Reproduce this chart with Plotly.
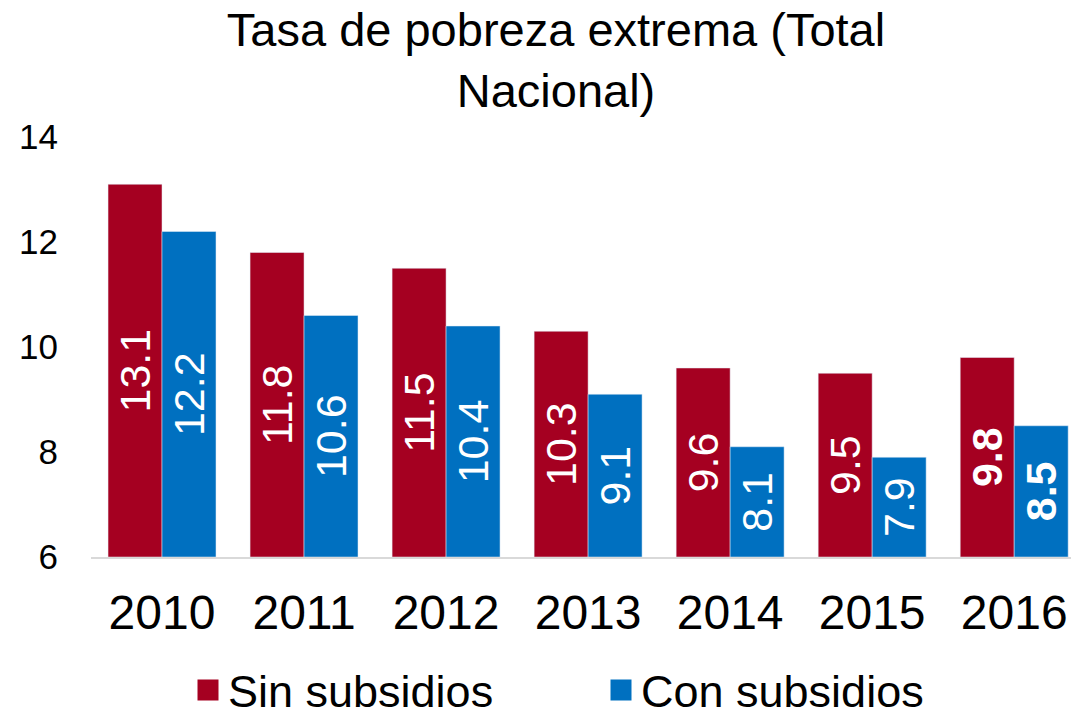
import plotly.graph_objects as go

years = ["2010", "2011", "2012", "2013", "2014", "2015", "2016"]
sin_subsidios = [13.1, 11.8, 11.5, 10.3, 9.6, 9.5, 9.8]
con_subsidios = [12.2, 10.6, 10.4, 9.1, 8.1, 7.9, 8.5]
y_ticks = [6, 8, 10, 12, 14]
AXIS_MIN = 6

RED = "#A50021"
BLUE = "#0070C0"
FONT = "Liberation Sans, Arial, sans-serif"


def labels(vals):
    out = []
    for i, v in enumerate(vals):
        s = f"{v:.1f}"
        if i == len(vals) - 1:
            s = f"<b>{s}</b>"
        out.append(s)
    return out


fig = go.Figure()
for name, vals, col in [("Sin subsidios", sin_subsidios, RED),
                        ("Con subsidios", con_subsidios, BLUE)]:
    fig.add_trace(go.Bar(
        name=name, x=years, y=[v - AXIS_MIN for v in vals], base=AXIS_MIN,
        marker_color=col, showlegend=False,
        text=labels(vals), textposition="inside", insidetextanchor="middle",
        textangle=-90, insidetextfont=dict(color="white", size=43, family=FONT),
        customdata=vals, hovertemplate="%{x}: %{customdata}<extra>" + name + "</extra>",
    ))
# legend entries with larger square symbols
for name, col in [("Sin subsidios", RED), ("Con subsidios", BLUE)]:
    fig.add_trace(go.Scatter(
        name=name, x=[None], y=[None], mode="markers",
        marker=dict(symbol="square", size=16, color=col, line=dict(color=col, width=5)),
        showlegend=True, hoverinfo="skip",
    ))

fig.update_layout(
    width=1071, height=716,
    margin=dict(l=91, r=0, t=137, b=159, autoexpand=False),
    paper_bgcolor="white", plot_bgcolor="white",
    barmode="group", bargap=0.24, bargroupgap=0,
    font=dict(family=FONT, color="black"),
    title=dict(
        text="Tasa de pobreza extrema (Total<br>Nacional)",
        x=556 / 1071, xref="container", xanchor="center",
        y=1 - 46 / 716, yref="container", yanchor="top",
        font=dict(size=47, family=FONT, color="black"),
    ),
    showlegend=True,
    legend=dict(
        orientation="h", x=(188 - 91) / 980, xanchor="left",
        y=-0.317, yanchor="middle",
        font=dict(size=45, family=FONT, color="black"),
        entrywidth=368, entrywidthmode="pixels",
    ),
    xaxis=dict(
        type="category", range=[-0.5, 6.4],
        showline=True, linecolor="#D9D9D9", linewidth=2,
        showgrid=False, ticks="", ticklabelstandoff=12,
        tickfont=dict(size=48, family=FONT, color="black"),
    ),
    yaxis=dict(
        range=[6, 14], tickvals=y_ticks, showgrid=False, zeroline=False,
        showline=False, ticks="", ticklabelstandoff=32,
        tickfont=dict(size=35, family=FONT, color="black"),
    ),
)

fig.write_html("out.html", config={"displayModeBar": False},
               post_script="document.body.style.margin='0px';")
